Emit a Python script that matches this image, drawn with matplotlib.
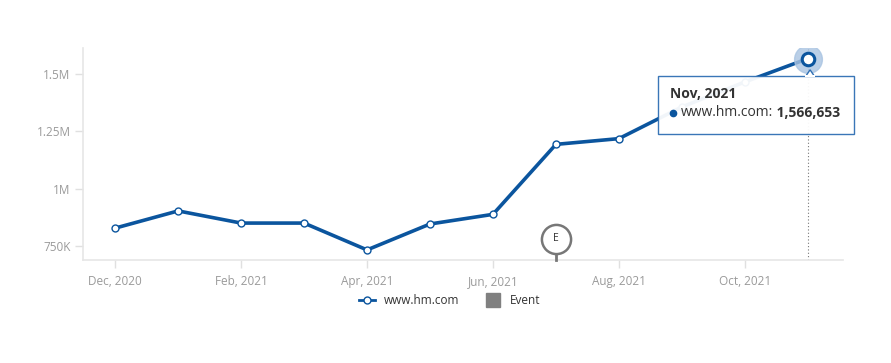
import matplotlib
matplotlib.use('Agg')
import matplotlib.pyplot as plt
import matplotlib.patches as patches
from matplotlib.lines import Line2D

plt.rcParams['font.family'] = ['Open Sans', 'DejaVu Sans']

months = ['Dec, 2020', 'Jan, 2021', 'Feb, 2021', 'Mar, 2021', 'Apr, 2021', 'May, 2021',
          'Jun, 2021', 'Jul, 2021', 'Aug, 2021', 'Sep, 2021', 'Oct, 2021', 'Nov, 2021']
visits = [828000, 903000, 850000, 850000, 733000, 846000,
          888000, 1193000, 1218000, 1356000, 1465000, 1566653]
yticks = [750000, 1000000, 1250000, 1500000]
ylabels = ['750K', '1M', '1.25M', '1.5M']
event_idx = 7
event_label = 'E'

lineColor = '#0b559e'
gray = '#9a9a9a'
x = list(range(len(months)))

fig = plt.figure(figsize=(8.91, 3.63), dpi=100)
ax = fig.add_axes([0.0932, 0.2837, 0.8530, 0.5841])

ax.plot(x, visits, '-', color=lineColor, linewidth=2.6, zorder=3)
ax.plot(x[:-1], visits[:-1], 'o', markersize=5, markerfacecolor='white',
        markeredgecolor=lineColor, markeredgewidth=1.0, zorder=4)
# hovered point
ax.plot(x[-1], visits[-1], 'o', markersize=20, color='#a9c4e2', alpha=0.8, zorder=4)
ax.plot(x[-1], visits[-1], 'o', markersize=9, markerfacecolor='white',
        markeredgecolor=lineColor, markeredgewidth=2.2, zorder=5)
ax.axvline(x[-1], color='#777777', linestyle=(0, (1, 2)), linewidth=0.8, zorder=2)

ax.set_xlim(-0.51, 11.56)
ax.set_ylim(689000, 1613000)
ax.set_xticks(x[::2])
ax.set_xticklabels(months[::2])
ax.set_yticks(yticks)
ax.set_yticklabels(ylabels)
ax.tick_params(axis='both', colors='#e0e0e0', labelcolor=gray, labelsize=8.5, length=6, width=1)
ax.tick_params(axis='x', pad=5)
ax.tick_params(axis='y', pad=3)
for s in ['top', 'right']:
    ax.spines[s].set_visible(False)
for s in ['left', 'bottom']:
    ax.spines[s].set_color('#e6e6e6')
    ax.spines[s].set_linewidth(1.2)

# event flag
ax.plot([event_idx, event_idx], [689000, 740000], color='#777777', linewidth=2, zorder=6, clip_on=False)
ax.plot(event_idx, 782000, 'o', markersize=21, markerfacecolor='white',
        markeredgecolor='#777777', markeredgewidth=1.8, zorder=7, clip_on=False)
ax.text(event_idx, 782000, event_label, ha='center', va='center', fontsize=7.5, color='#333333', zorder=8)

# tooltip
nx = 0.9566
box = patches.Rectangle((0.757, 0.594), 0.257, 0.274, transform=ax.transAxes, facecolor='white',
                        edgecolor='#2f6fb3', linewidth=1.0, alpha=0.95, zorder=9, clip_on=False)
ax.add_patch(box)
notch = patches.Polygon([(nx - 0.0055, 0.868), (nx + 0.0055, 0.868), (nx, 0.897)], closed=True,
                        transform=ax.transAxes, facecolor='white', edgecolor='#2f6fb3',
                        linewidth=1.0, zorder=9, clip_on=False)
ax.add_patch(notch)
ax.add_patch(patches.Rectangle((nx - 0.0065, 0.862), 0.013, 0.01, transform=ax.transAxes,
                               facecolor='white', edgecolor='none', zorder=9.5, clip_on=False))
ax.text(0.772, 0.785, months[-1], transform=ax.transAxes, fontsize=10, fontweight='bold',
        color='#333333', va='center', zorder=10)
ax.plot([0.776], [0.695], 'o', transform=ax.transAxes, markersize=4.5, color=lineColor, zorder=10, clip_on=False)
t = ax.text(0.786, 0.695, 'www.hm.com:', transform=ax.transAxes, fontsize=10,
            color='#333333', va='center', zorder=10)
ax.annotate(' ' + f'{visits[-1]:,}', xycoords=t, xy=(1, 0.5), va='center', fontsize=10,
            fontweight='bold', color='#333333', zorder=10)

handles = [Line2D([0], [0], color=lineColor, linewidth=2, marker='o', markersize=5,
                  markerfacecolor='white', markeredgecolor=lineColor),
           Line2D([0], [0], linestyle='none', marker='s', markersize=10, color='#808080')]
fig.legend(handles, ['www.hm.com', 'Event'], loc='center', bbox_to_anchor=(0.505, 0.171), ncol=2,
           frameon=False, fontsize=8.5, labelcolor='#333333', handlelength=1.3, columnspacing=2.2)

fig.savefig('out.png', dpi=100)
